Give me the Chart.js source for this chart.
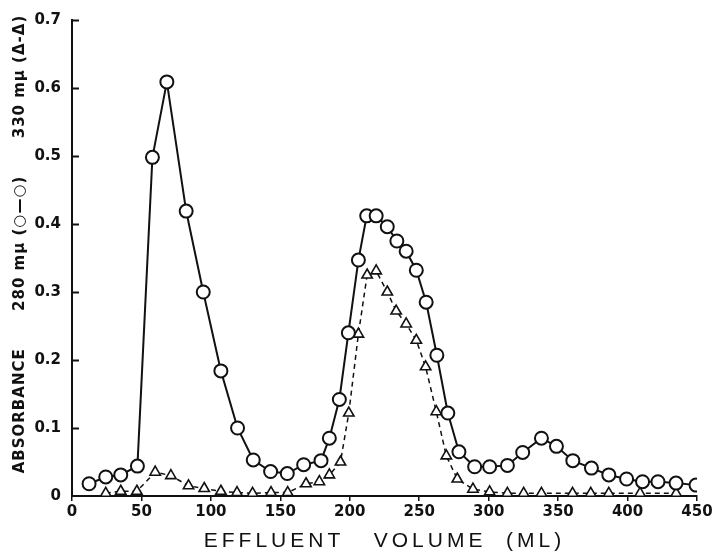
<!DOCTYPE html>
<html>
<head>
<meta charset="utf-8">
<script src="https://cdn.jsdelivr.net/npm/chart.js@4/dist/chart.umd.min.js"></script>
<style>
  html, body { margin: 0; padding: 0; background: #fff; }
  canvas { display: block; }
</style>
</head>
<body>
<canvas id="chart" width="715" height="554"></canvas>
<script>
// Effluent volume (ml) and absorbance at 280 mµ (circles, solid line)
const volume280 = [12.3, 24.3, 35.1, 47.1, 57.9, 68.3, 82.2, 94.5, 107.2, 119.2,
  130.5, 143.0, 155.0, 166.8, 179.3, 185.3, 192.5, 199.0, 206.2, 212.2,
  219.0, 227.0, 233.9, 240.6, 247.9, 255.0, 262.7, 270.6, 278.6, 289.9,
  300.7, 313.5, 324.5, 338.0, 348.8, 360.6, 374.0, 386.5, 399.3, 410.8,
  421.9, 434.9, 449.3];
const abs280 = [0.018, 0.028, 0.031, 0.044, 0.498, 0.609, 0.419, 0.300, 0.184, 0.100,
  0.053, 0.036, 0.033, 0.046, 0.052, 0.085, 0.142, 0.240, 0.347, 0.412,
  0.412, 0.396, 0.375, 0.360, 0.332, 0.285, 0.207, 0.122, 0.065, 0.043,
  0.043, 0.045, 0.064, 0.085, 0.073, 0.052, 0.041, 0.031, 0.025, 0.021,
  0.021, 0.019, 0.016];

// Effluent volume (ml) and absorbance at 330 mµ (triangles, dashed line)
const volume330 = [24.3, 35.1, 46.7, 59.9, 71.2, 83.9, 95.2, 107.2, 118.8, 130.0,
  143.3, 155.3, 168.5, 178.1, 185.3, 193.3, 199.3, 206.2, 212.5, 219.0,
  227.0, 233.4, 240.6, 247.9, 254.6, 262.3, 269.5, 277.4, 288.7, 300.7,
  313.5, 325.2, 338.0, 360.4, 373.5, 386.5, 409.0, 435.0];
const abs330 = [0.004, 0.007, 0.007, 0.035, 0.030, 0.015, 0.011, 0.007, 0.005, 0.004,
  0.005, 0.005, 0.018, 0.021, 0.031, 0.050, 0.122, 0.238, 0.325, 0.331,
  0.300, 0.272, 0.253, 0.229, 0.190, 0.124, 0.059, 0.025, 0.010, 0.006,
  0.004, 0.004, 0.004, 0.004, 0.004, 0.004, 0.004, 0.004];

// Axis ticks
const xTicks = [0, 50, 100, 150, 200, 250, 300, 350, 400, 450];
const yTicks = [0, 0.1, 0.2, 0.3, 0.4, 0.5, 0.6, 0.7];

const xTitle = 'EFFLUENT   VOLUME  (ML)';
const yTitle = 'ABSORBANCE      280 mµ (○—○)      330 mµ (Δ-Δ)';

const INK = '#111';
const tickFont = { family: 'DejaVu Sans', size: 15, weight: 'bold' };

function toPoints(xs, ys) {
  return xs.map((x, i) => ({ x: x, y: ys[i] }));
}

// Short tick marks pointing into the plot from the value axis
const inwardTicks = {
  id: 'inwardTicks',
  afterDatasetsDraw(chart) {
    const { ctx, scales: { y }, chartArea } = chart;
    ctx.save();
    ctx.strokeStyle = INK;
    ctx.lineWidth = 2;
    yTicks.forEach(v => {
      if (v === 0) return;
      const py = Math.round(y.getPixelForValue(v)) + 0.5;
      ctx.beginPath();
      ctx.moveTo(chartArea.left, py);
      ctx.lineTo(chartArea.left + 7, py);
      ctx.stroke();
    });
    ctx.restore();
  }
};

// Axis titles, letter-spaced
const axisTitles = {
  id: 'axisTitles',
  afterDraw(chart) {
    const { ctx, chartArea } = chart;
    ctx.save();
    ctx.fillStyle = INK;
    ctx.textAlign = 'center';
    ctx.textBaseline = 'middle';

    ctx.font = '21px "Liberation Sans"';
    ctx.letterSpacing = '4px';
    ctx.fillText(xTitle, (chartArea.left + chartArea.right) / 2, 541);

    ctx.font = 'bold 15px "DejaVu Sans"';
    ctx.letterSpacing = '1px';
    ctx.translate(20, chartArea.top + 224);
    ctx.rotate(-Math.PI / 2);
    ctx.fillText(yTitle, 0, 0);
    ctx.restore();
  }
};

new Chart(document.getElementById('chart'), {
  type: 'line',
  data: {
    datasets: [
      {
        label: '280 mµ',
        data: toPoints(volume280, abs280),
        borderColor: INK,
        borderWidth: 2,
        pointStyle: 'circle',
        pointRadius: 6.5,
        pointBorderWidth: 2,
        pointBackgroundColor: '#fff',
        pointBorderColor: INK,
        tension: 0,
        order: 1
      },
      {
        label: '330 mµ',
        data: toPoints(volume330, abs330),
        borderColor: INK,
        borderWidth: 1.5,
        borderDash: [5, 4],
        pointStyle: 'triangle',
        pointRadius: 6,
        pointBorderWidth: 1.6,
        pointBackgroundColor: '#fff',
        pointBorderColor: INK,
        tension: 0,
        order: 2
      }
    ]
  },
  options: {
    responsive: false,
    animation: false,
    layout: { padding: { top: 20, right: 18, left: 0, bottom: 0 } },
    plugins: {
      legend: { display: false },
      tooltip: { enabled: false }
    },
    scales: {
      x: {
        type: 'linear',
        min: 0,
        max: 450,
        afterFit(scale) { scale.height = 58; },
        afterBuildTicks(scale) { scale.ticks = xTicks.map(v => ({ value: v })); },
        border: { display: true, color: INK, width: 2 },
        grid: { drawOnChartArea: false, drawTicks: true, tickLength: 5, color: INK, lineWidth: 1.5 },
        ticks: { color: INK, font: tickFont, padding: 2, maxRotation: 0 }
      },
      y: {
        type: 'linear',
        min: 0,
        max: 0.7,
        afterFit(scale) { scale.width = 72; },
        afterBuildTicks(scale) { scale.ticks = yTicks.map(v => ({ value: v })); },
        border: { display: true, color: INK, width: 2 },
        grid: { drawOnChartArea: false, drawTicks: false },
        ticks: {
          color: INK,
          font: tickFont,
          padding: 11,
          callback: v => (v === 0 ? '0' : v.toFixed(1))
        }
      }
    }
  },
  plugins: [inwardTicks, axisTitles]
});
</script>
</body>
</html>
